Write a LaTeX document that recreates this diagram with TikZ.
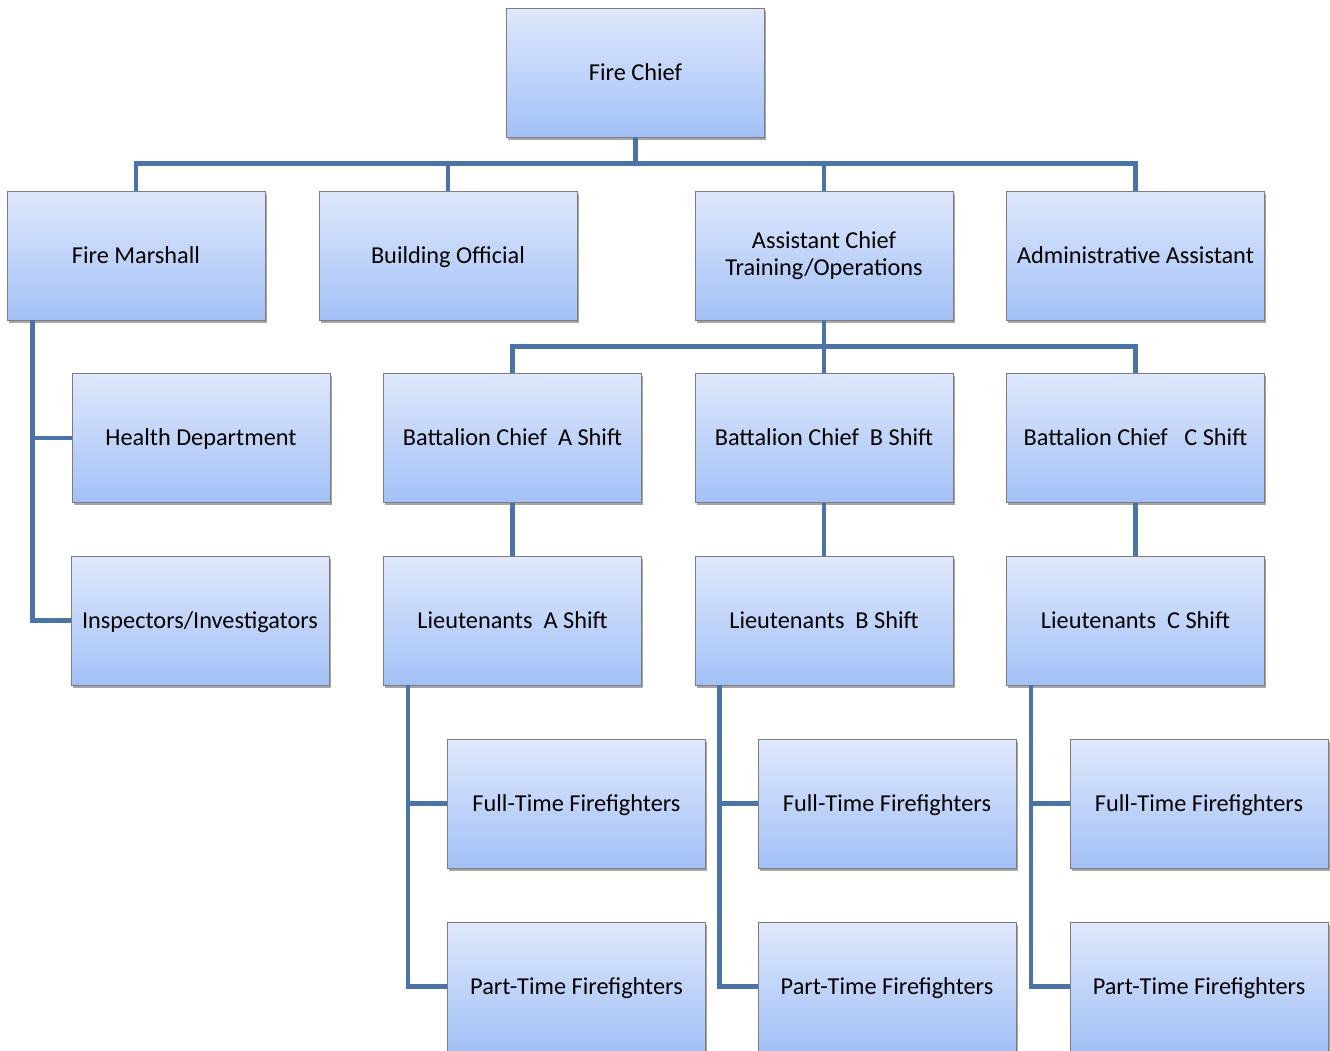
\documentclass[tikz,border=0pt]{standalone}
\usepackage{fontspec}
\setmainfont{Carlito}
\usetikzlibrary{shadows,calc}
\definecolor{boxtop}{RGB}{223,232,252}
\definecolor{boxbot}{RGB}{163,193,247}
\definecolor{boxline}{RGB}{125,125,125}
\definecolor{linkcol}{RGB}{74,115,168}
% invisible rule that centres capitals vertically in a box
\newcommand\capstrut{\rule[-0.26em]{0pt}{1.16em}}
\begin{document}
\begin{tikzpicture}[x=1pt,y=-1pt,
  orgbox/.style={rectangle, minimum width=258pt, minimum height=129pt,
    inner sep=2pt, top color=boxtop, bottom color=boxbot, draw=boxline,
    line width=0.9pt, align=center, font=\fontsize{24.3}{26.5}\selectfont,
    drop shadow={shadow xshift=1.5pt, shadow yshift=-2.5pt, opacity=0.35, fill=black}},
  link/.style={draw=linkcol, line width=4.5pt}]
\useasboundingbox (0,0) rectangle (1330,1050);
\fill[white] (0,0) rectangle (1330,1050);

% top level
\node[orgbox] (chief) at (635.5,72.5) {\capstrut Fire Chief};

% second row
\node[orgbox] (marshall) at (136,255.5) {\capstrut Fire Marshall};
\node[orgbox] (building) at (448,255.5) {\capstrut Building Official};
\node[orgbox] (asst) at (824,255.5) {Assistant Chief\\Training/Operations};
\node[orgbox] (admin) at (1135.5,255.5) {\capstrut Administrative Assistant};

% third row
\node[orgbox] (health) at (201,438) {\capstrut Health Department};
\node[orgbox] (batA) at (512.5,438) {\capstrut Battalion Chief~~A Shift};
\node[orgbox] (batB) at (824,438) {\capstrut Battalion Chief~~B Shift};
\node[orgbox] (batC) at (1135.5,438) {\capstrut Battalion Chief~~~C Shift};

% fourth row
\node[orgbox] (insp) at (200,620.5) {\capstrut Inspectors/Investigators};
\node[orgbox] (ltA) at (512.5,620.5) {\capstrut Lieutenants~~A Shift};
\node[orgbox] (ltB) at (824,620.5) {\capstrut Lieutenants~~B Shift};
\node[orgbox] (ltC) at (1135.5,620.5) {\capstrut Lieutenants~~C Shift};

% firefighters
\node[orgbox] (ftA) at (576.5,803.5) {\capstrut Full-Time Firefighters};
\node[orgbox] (ftB) at (887,803.5) {\capstrut Full-Time Firefighters};
\node[orgbox] (ftC) at (1199,803.5) {\capstrut Full-Time Firefighters};
\node[orgbox] (ptA) at (576.5,986.5) {\capstrut Part-Time Firefighters};
\node[orgbox] (ptB) at (887,986.5) {\capstrut Part-Time Firefighters};
\node[orgbox] (ptC) at (1199,986.5) {\capstrut Part-Time Firefighters};

% connectors: fire chief to second row
\draw[link] (chief.south) -- ++(0,26) coordinate (busA);
\draw[link] (marshall.north) |- (busA) -| (admin.north);
\draw[link] (building.north) -- (building.north |- busA);
\draw[link] (asst.north) -- (asst.north |- busA);

% fire marshall side branch
\coordinate (mv) at ($(marshall.south west)+(26,0)$);
\draw[link] (mv) |- (insp.west);
\draw[link] ($(mv |- health.west)$) -- (health.west);

% assistant chief to battalion chiefs
\draw[link] (asst.south) -- ++(0,26) coordinate (busB);
\draw[link] (batA.north) |- (busB) -| (batC.north);
\draw[link] (batB.north) -- (batB.north |- busB);

% battalion chiefs to lieutenants
\draw[link] (batA.south) -- (ltA.north);
\draw[link] (batB.south) -- (ltB.north);
\draw[link] (batC.south) -- (ltC.north);

% lieutenants to firefighters
\foreach \s in {A,B,C}{
  \coordinate (lv\s) at ($(lt\s.south west)+(25,0)$);
  \draw[link] (lv\s) |- (pt\s.west);
  \draw[link] ($(lv\s |- ft\s.west)$) -- (ft\s.west);
}
\end{tikzpicture}
\end{document}
